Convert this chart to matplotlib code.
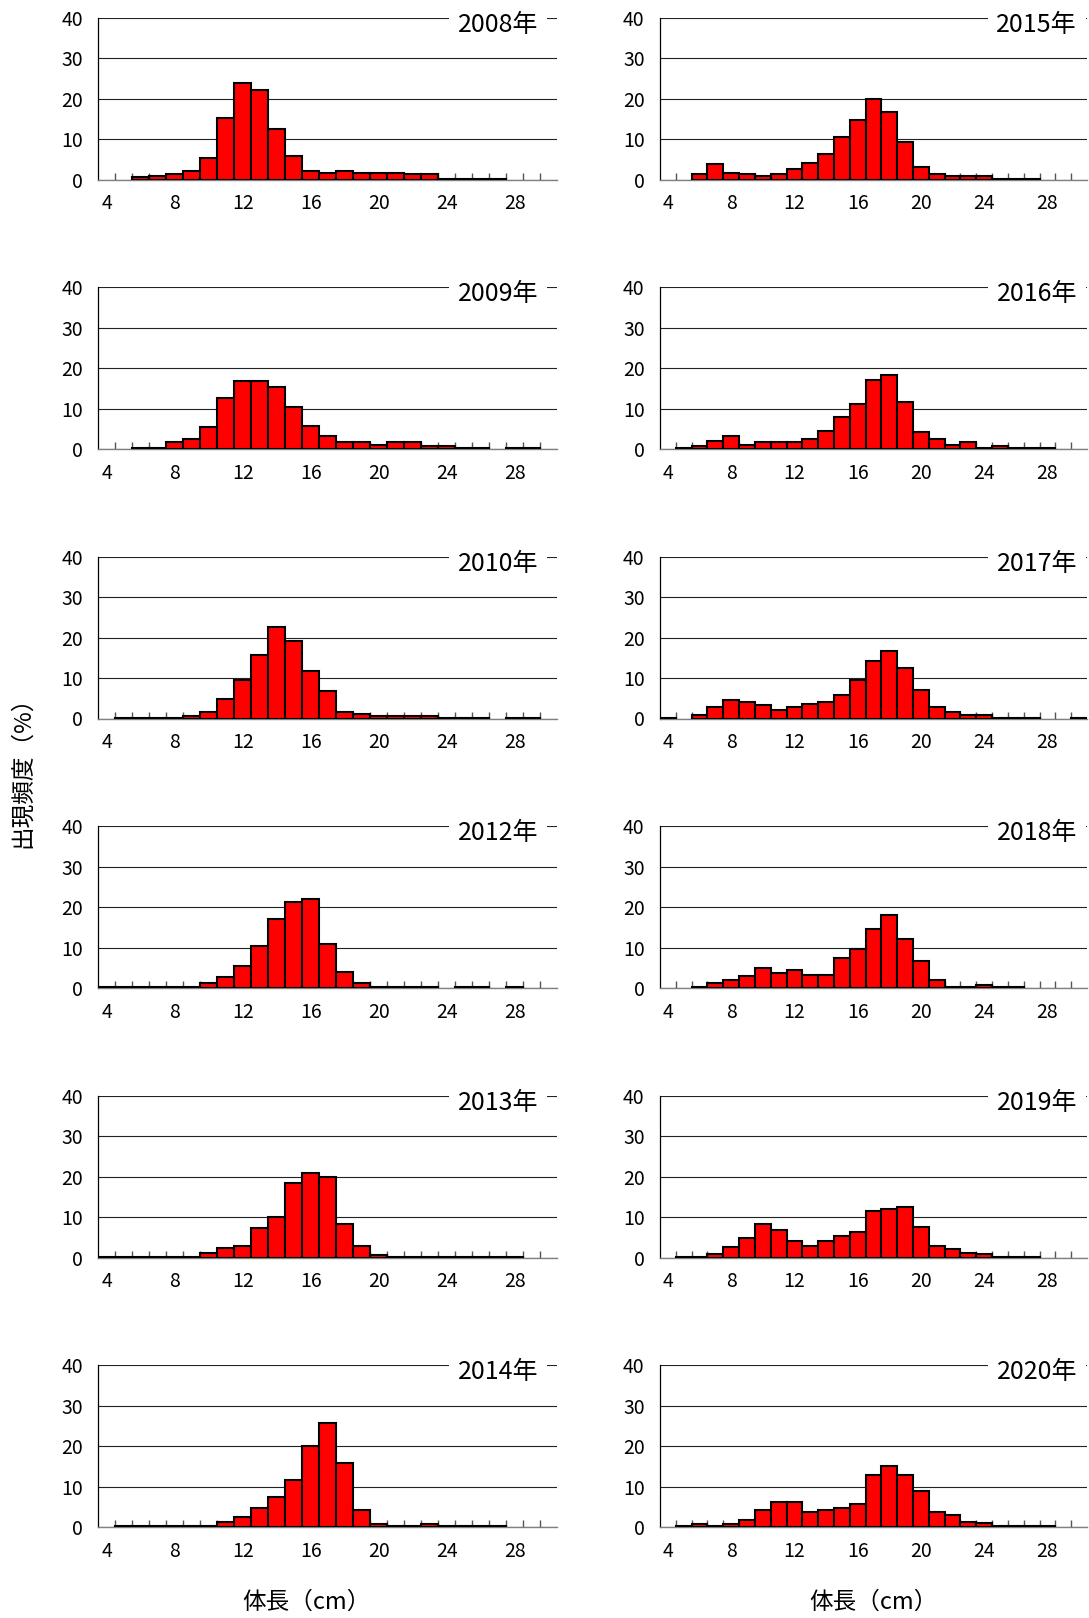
import numpy as np
import matplotlib
matplotlib.use('Agg')
import matplotlib.pyplot as plt

plt.rcParams['font.family'] = ['Noto Sans CJK JP', 'DejaVu Sans']

# body length classes (cm), 4 .. 30
lengths = list(range(4, 31))

years_left = ['2008年', '2009年', '2010年', '2012年', '2013年', '2014年']
years_right = ['2015年', '2016年', '2017年', '2018年', '2019年', '2020年']

# frequency (%) per 1 cm class
freq_2008 = [0, 0, 0.5, 0.9, 1.3, 2.1, 5.4, 15.1, 23.8, 22.2, 12.6, 5.9, 2.1, 1.7,
             2.1, 1.7, 1.7, 1.7, 1.4, 1.4, 0.2, 0.2, 0.2, 0.2, 0, 0, 0]
freq_2009 = [0, 0, 0.2, 0.2, 1.7, 2.5, 5.4, 12.5, 16.7, 16.7, 15.4, 10.4, 5.8, 3.3,
             1.7, 1.7, 1.1, 1.7, 1.7, 0.8, 0.8, 0.2, 0.2, 0, 0.2, 0.2, 0]
freq_2010 = [0, 0.2, 0.2, 0.2, 0.2, 0.7, 1.6, 4.9, 9.6, 15.8, 22.6, 19.1, 11.7, 6.8,
             1.6, 1.2, 0.7, 0.7, 0.7, 0.7, 0.2, 0.2, 0.2, 0, 0.2, 0.2, 0]
freq_2012 = [0.2, 0.2, 0.2, 0.2, 0.2, 0.2, 1.2, 2.6, 5.5, 10.5, 17.1, 21.2, 22.1, 10.9,
             3.9, 1.3, 0.2, 0.2, 0.2, 0.2, 0, 0.2, 0.2, 0, 0.2, 0, 0]
freq_2013 = [0.2, 0.2, 0.2, 0.2, 0.2, 0.2, 1.1, 2.4, 2.8, 7.4, 9.9, 18.3, 20.8, 20.0,
             8.3, 2.8, 0.7, 0.2, 0.2, 0.2, 0.2, 0.2, 0.2, 0.2, 0.2, 0, 0]
freq_2014 = [0, 0.2, 0.2, 0.2, 0.2, 0.2, 0.2, 1.2, 2.5, 4.6, 7.5, 11.7, 20.0, 25.8,
             15.9, 4.2, 0.8, 0.2, 0.2, 0.8, 0.2, 0.2, 0.2, 0.2, 0, 0, 0]
freq_2015 = [0, 0, 1.3, 3.8, 1.6, 1.3, 0.9, 1.3, 2.5, 4.2, 6.3, 10.5, 14.6, 20.0,
             16.7, 9.2, 3.0, 1.3, 0.9, 0.9, 0.9, 0.2, 0.2, 0.2, 0, 0, 0]
freq_2016 = [0, 0.2, 0.8, 2.1, 3.3, 1.0, 1.7, 1.7, 1.7, 2.5, 4.5, 7.9, 11.2, 17.0,
             18.3, 11.7, 4.1, 2.5, 1.0, 1.7, 0.2, 0.8, 0.2, 0.2, 0.2, 0, 0]
freq_2017 = [0.2, 0, 0.8, 2.9, 4.5, 4.1, 3.3, 2.1, 2.9, 3.7, 4.1, 5.8, 9.6, 14.1,
             16.7, 12.5, 7.1, 2.9, 1.6, 0.8, 0.8, 0.2, 0.2, 0.2, 0, 0, 0.2]
freq_2018 = [0, 0, 0.2, 1.3, 2.1, 3.0, 5.0, 3.7, 4.5, 3.3, 3.3, 7.5, 9.6, 14.5,
             18.0, 12.1, 6.7, 2.1, 0.2, 0.2, 0.8, 0.2, 0.2, 0, 0, 0, 0]
freq_2019 = [0, 0.2, 0.2, 0.8, 2.5, 4.9, 8.3, 6.7, 4.2, 2.9, 4.2, 5.4, 6.3, 11.6,
             12.0, 12.4, 7.5, 2.9, 2.1, 1.2, 0.8, 0.2, 0.2, 0.2, 0, 0, 0]
freq_2020 = [0, 0.2, 0.7, 0.2, 0.7, 1.8, 4.2, 6.3, 6.3, 3.8, 4.2, 4.6, 5.8, 12.9,
             15.0, 12.9, 8.8, 3.8, 3.0, 1.3, 0.9, 0.2, 0.2, 0.2, 0.2, 0, 0]

left_data = [freq_2008, freq_2009, freq_2010, freq_2012, freq_2013, freq_2014]
right_data = [freq_2015, freq_2016, freq_2017, freq_2018, freq_2019, freq_2020]


def plot_panel(ax, values, label, label_x):
    x = [l for l, v in zip(lengths, values) if v > 0]
    y = [v for v in values if v > 0]
    ax.bar(x, y, width=1.0, color='#ff0000', edgecolor='black', linewidth=1.5, zorder=3)
    ax.set_xlim(3.5, 30.5)
    ax.set_ylim(0, 40)
    ax.set_yticks([0, 10, 20, 30, 40])
    ax.set_xticks([4, 8, 12, 16, 20, 24, 28])
    ax.set_xticks(np.arange(4.5, 30, 1), minor=True)
    ax.tick_params(axis='x', which='major', length=0, pad=10, labelsize=14)
    ax.tick_params(axis='x', which='minor', direction='in', length=5,
                   color='#555555', width=1)
    ax.tick_params(axis='y', length=0, pad=11, labelsize=14)
    ax.set_axisbelow(True)
    ax.yaxis.grid(True, color='#222222', linewidth=0.8)
    ax.spines['top'].set_visible(False)
    ax.spines['right'].set_visible(False)
    ax.spines['left'].set_color('black')
    ax.spines['left'].set_linewidth(0.9)
    ax.spines['bottom'].set_color('#808080')
    ax.spines['bottom'].set_linewidth(1.0)
    ax.text(label_x, 0.955, label, transform=ax.transAxes, ha='right', va='center',
            fontsize=18, zorder=5,
            bbox=dict(boxstyle='square,pad=0.35', facecolor='white', edgecolor='none'))


W, H = 1089, 1618
fig = plt.figure(figsize=(W / 100, H / 100), dpi=100)

for i in range(6):
    top = 17.7 + 269.5 * i
    bottom = 1 - (top + 161.8) / H
    ax = fig.add_axes([98.3 / W, bottom, 458.7 / W, 161.8 / H])
    plot_panel(ax, left_data[i], years_left[i], 0.9586)
    ax = fig.add_axes([660 / W, bottom, 427 / W, 161.8 / H])
    plot_panel(ax, right_data[i], years_right[i], 0.9766)

fig.text(23 / W, 1 - 766 / H, '出現頻度（%）', rotation=90, ha='center', va='center', fontsize=17)
fig.text(306 / W, 1 - 1602 / H, '体長（cm）', ha='center', va='center', fontsize=17)
fig.text(873 / W, 1 - 1602 / H, '体長（cm）', ha='center', va='center', fontsize=17)

fig.savefig('out.png', dpi=100)
